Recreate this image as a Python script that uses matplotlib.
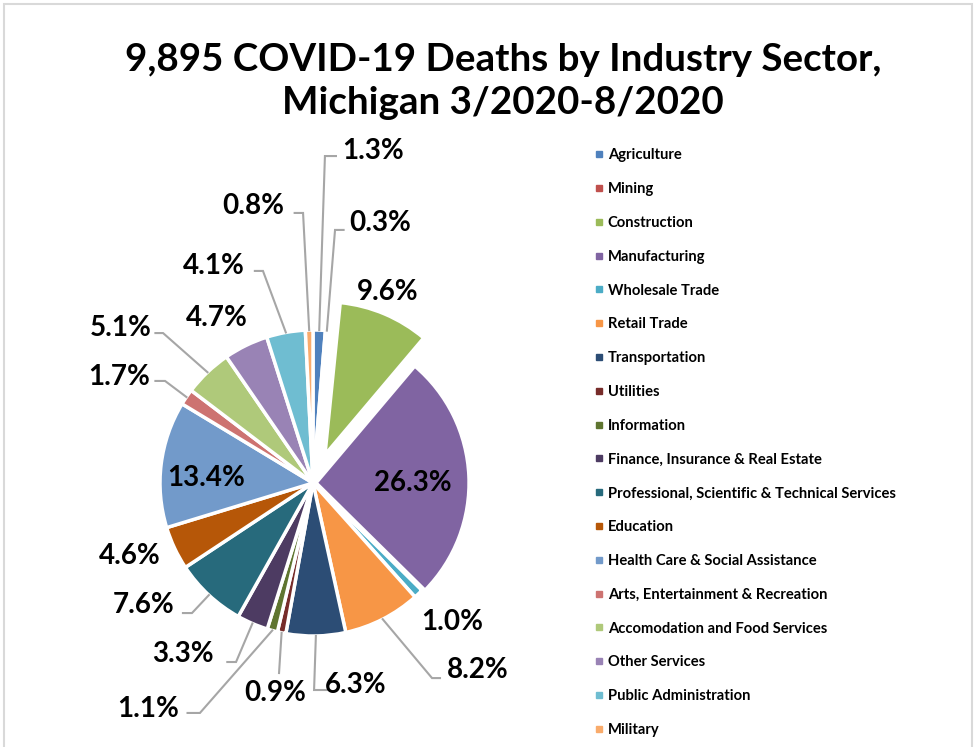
import numpy as np
import matplotlib.pyplot as plt
from matplotlib.lines import Line2D
from matplotlib.patches import Rectangle

# ============================
# DATOS
# ============================
sectors = ["Agriculture", "Mining", "Construction", "Manufacturing",
           "Wholesale Trade", "Retail Trade", "Transportation", "Utilities",
           "Information", "Finance, Insurance & Real Estate",
           "Professional, Scientific & Technical Services", "Education",
           "Health Care & Social Assistance", "Arts, Entertainment & Recreation",
           "Accomodation and Food Services", "Other Services",
           "Public Administration", "Military"]
pct = [1.3, 0.3, 9.6, 26.3, 1.0, 8.2, 6.3, 0.9, 1.1, 3.3, 7.6, 4.6,
       13.4, 1.7, 5.1, 4.7, 4.1, 0.8]
colors = ["#4F81BD", "#C0504D", "#9BBB59", "#8064A2", "#4BACC6", "#F79646",
          "#2C4D75", "#772C2A", "#5F7530", "#4D3B62", "#276A7C", "#B65708",
          "#729ACA", "#CD7371", "#AFC97A", "#9983B5", "#6FBDD1", "#F9AB6B"]
explode = [0, 0, 0.2, 0.02, 0, 0, 0, 0, 0, 0, 0, 0, 0, 0, 0, 0, 0, 0]

# posiciones de etiquetas (unidades del radio) y codo de la línea guía
label_pos = [(0.39, 2.17), (0.44, 1.70), (0.49, 1.25), (0.65, 0.0),
             (0.91, -0.91), (1.08, -1.22), (0.28, -1.32), (-0.25, -1.37),
             (-1.08, -1.48), (-0.85, -1.12), (-1.11, -0.80), (-1.20, -0.48),
             (-0.70, 0.03), (-1.27, 0.69), (-1.26, 1.01), (-0.63, 1.08),
             (-0.65, 1.42), (-0.39, 1.81)]
elbows = [(0.078, 2.137, 0.150), (0.144, 1.654, 0.200), None, None,
          None, (0.778, -1.275, 0.830), (0.007, -1.353, 0.090),
          (-0.222, -1.242, -0.222), (-0.739, -1.503, -0.820),
          (-0.503, -1.170, -0.560), (-0.791, -0.850, -0.850), None,
          None, (-0.967, 0.667, -1.030), (-0.980, 0.980, -1.030), None,
          (-0.327, 1.386, -0.380), (-0.065, 1.765, -0.120)]

plt.rcParams['font.family'] = ['Lato', 'DejaVu Sans']

fig = plt.figure(figsize=(9.79, 7.47), dpi=100)
W, H = 979, 747
cx, cy, R = 313, 483, 153
ax = fig.add_axes([0, 0, 1, 1])

wedges, _ = ax.pie(pct, colors=colors, explode=explode, startangle=90,
                   counterclock=False, radius=1,
                   wedgeprops=dict(edgecolor='white', linewidth=2.5))
ax.set_xlim(-cx / R, (W - cx) / R)
ax.set_ylim((cy - H) / R, cy / R)
ax.set_aspect('equal')
ax.axis('off')

gray = "#A6A6A6"
for w, txt, (lx, ly), el in zip(wedges, pct, label_pos, elbows):
    ax.text(lx, ly, f"{txt:.1f}%", ha='center', va='center',
            fontsize=20, fontweight='bold', color='black')
    if el is not None:
        mid = np.deg2rad((w.theta1 + w.theta2) / 2)
        x0 = w.center[0] + w.r * np.cos(mid)
        y0 = w.center[1] + w.r * np.sin(mid)
        ex, ey, hx = el
        ax.plot([x0, ex, hx], [y0, ey, ey], color=gray, lw=1.5,
                solid_joinstyle='miter')

# título
fig.text(503 / W, 1 - 60 / H, "9,895 COVID-19 Deaths by Industry Sector,",
         ha='center', va='center', fontsize=27.7, fontweight='bold')
fig.text(503 / W, 1 - 103 / H, "Michigan 3/2020-8/2020",
         ha='center', va='center', fontsize=27.7, fontweight='bold')

# leyenda
handles = [Line2D([], [], marker='s', ls='', markersize=4.5, color=c)
           for c in colors]
fig.legend(handles, sectors, loc='upper left',
           bbox_to_anchor=(588 / W, 1 - 141 / H), frameon=False,
           prop=dict(size=10.6, weight='bold'), handlelength=0.45,
           handletextpad=0.4, labelspacing=1.345, borderpad=0)

# borde
fig.add_artist(Rectangle((4.5 / W, -0.05), (972 - 4.5) / W, 1.05 - 4 / H,
                         transform=fig.transFigure, fill=False,
                         edgecolor="#D9D9D9", lw=1.5))

fig.savefig("out.png", dpi=100)
